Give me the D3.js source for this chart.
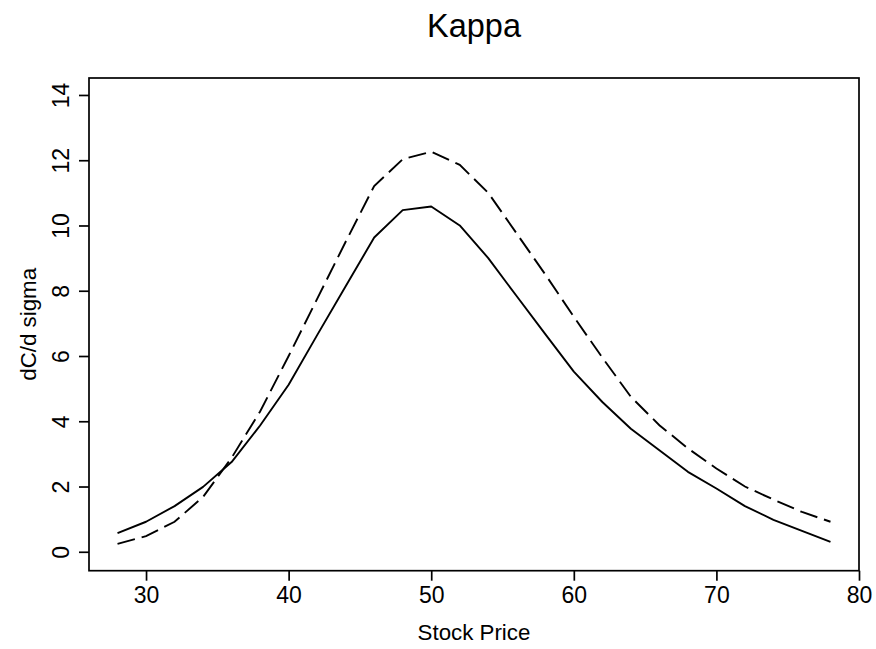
<!DOCTYPE html>
<html>
<head>
<meta charset="utf-8">
<script src="https://cdn.jsdelivr.net/npm/d3@7"></script>
<style>
  html, body { margin: 0; padding: 0; background: #fff; }
  svg { display: block; }
  text { font-family: "Liberation Sans", Arial, Helvetica, sans-serif; fill: #000; }
</style>
</head>
<body>
<svg id="chart" width="876" height="649"></svg>
<script>
const stockPrice = [28,30,32,34,36,38,40,42,44,46,48,50,52,54,56,58,60,62,64,66,68,70,72,74,76,78];
const kappaSolid = [0.57,0.92,1.40,1.99,2.75,3.87,5.12,6.64,8.14,9.63,10.47,10.58,10.00,9.00,7.83,6.67,5.52,4.59,3.77,3.11,2.45,1.94,1.40,0.98,0.64,0.30];
const kappaDashed = [0.24,0.48,0.92,1.68,2.88,4.30,6.00,7.75,9.50,11.21,12.03,12.26,11.86,11.00,9.75,8.50,7.20,5.95,4.75,3.88,3.17,2.55,2.00,1.60,1.22,0.92];
const xTicks = [30,40,50,60,70,80];
const yTicks = [0,2,4,6,8,10,12,14];
const titleText = "Kappa";
const xLabel = "Stock Price";
const yLabel = "dC/d sigma";

(function () {
const svg = d3.select("#chart");
const pLeft = 89, pRight = 859, pTop = 78, pBottom = 570.7;

const x = d3.scaleLinear().domain([26, 80]).range([pLeft, pRight]);
const y = d3.scaleLinear().domain([-0.58, 14.52]).range([pBottom, pTop]);

// frame
svg.append("rect")
  .attr("x", pLeft).attr("y", pTop)
  .attr("width", pRight - pLeft).attr("height", pBottom - pTop)
  .attr("fill", "none").attr("stroke", "#000").attr("stroke-width", 1.7);

// x axis
const xAxis = svg.append("g")
  .attr("transform", `translate(0,${pBottom})`)
  .call(d3.axisBottom(x).tickValues(xTicks).tickSize(10).tickPadding(6).tickFormat(d3.format("d")));
xAxis.select(".domain").remove();
xAxis.selectAll(".tick line").attr("stroke", "#000").attr("stroke-width", 1.7);
xAxis.selectAll(".tick text").attr("font-size", 23).attr("dy", "0.71em")
  .style("font-family", '"Liberation Sans", Arial, sans-serif');

// y axis
const yAxis = svg.append("g")
  .attr("transform", `translate(${pLeft},0)`)
  .call(d3.axisLeft(y).tickValues(yTicks).tickSize(10).tickFormat(d3.format("d")));
yAxis.select(".domain").remove();
yAxis.selectAll(".tick line").attr("stroke", "#000").attr("stroke-width", 1.7);
yAxis.selectAll(".tick text")
  .attr("x", null).attr("dy", null)
  .attr("text-anchor", "middle")
  .attr("transform", `translate(${68.5 - pLeft},0) rotate(-90)`)
  .attr("font-size", 23)
  .style("font-family", '"Liberation Sans", Arial, sans-serif');

// lines
const line = d3.line().x((d, i) => x(stockPrice[i])).y(d => y(d));
svg.append("path").datum(kappaSolid)
  .attr("d", line).attr("fill", "none").attr("stroke", "#000")
  .attr("stroke-width", 1.9).attr("stroke-linejoin", "round");
svg.append("path").datum(kappaDashed)
  .attr("d", line).attr("fill", "none").attr("stroke", "#000")
  .attr("stroke-width", 1.9).attr("stroke-dasharray", "18,7");

// title and labels
svg.append("text").attr("x", (pLeft + pRight) / 2).attr("y", 37)
  .attr("text-anchor", "middle").attr("font-size", 32.5).text(titleText);
svg.append("text").attr("x", (pLeft + pRight) / 2).attr("y", 640)
  .attr("text-anchor", "middle").attr("font-size", 22.3).text(xLabel);
svg.append("text")
  .attr("transform", `translate(36,${(pTop + pBottom) / 2}) rotate(-90)`)
  .attr("text-anchor", "middle").attr("font-size", 22.3).text(yLabel);
})();
</script>
</body>
</html>
